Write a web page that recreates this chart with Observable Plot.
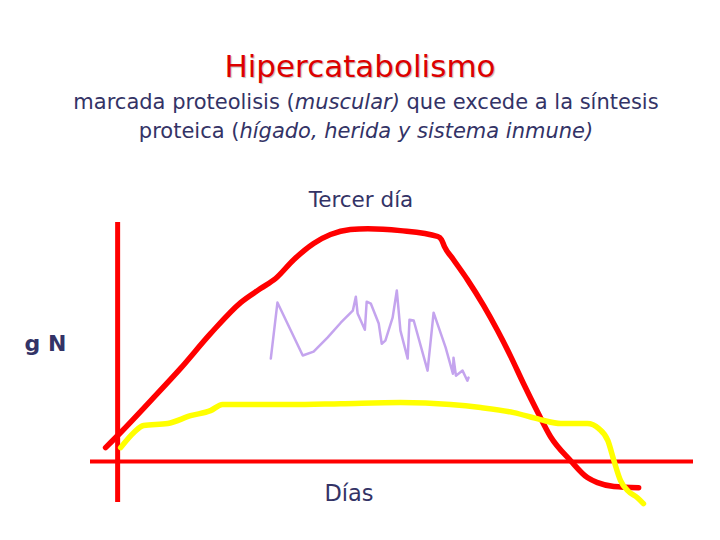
<!DOCTYPE html>
<html>
<head>
<meta charset="utf-8">
<script src="https://cdn.jsdelivr.net/npm/d3@7"></script>
<script src="https://cdn.jsdelivr.net/npm/@observablehq/plot@0.6"></script>
<style>
  html, body { margin: 0; padding: 0; background: #fff; }
  #page { position: relative; width: 720px; height: 540px; font-family: "DejaVu Sans", Verdana, sans-serif; }
  #header { position: relative; width: 720px; height: 180px; }
  .line { position: absolute; left: 0; width: 720px; text-align: center; line-height: 1; white-space: nowrap; }
  #title { top: 51px; font-size: 31px; color: #dd0000; text-shadow: 1px 1px 1px #bbb; }
  .sub { font-size: 21px; color: #333366; padding-left: 12px; box-sizing: border-box; }
  #sub1 { top: 92px; }
  #sub2 { top: 121px; }
  #chart svg { display: block; }
</style>
</head>
<body>
<div id="page">
  <div id="header">
    <div id="title" class="line"></div>
    <div id="sub1" class="line sub"></div>
    <div id="sub2" class="line sub"></div>
  </div>
  <div id="chart"></div>
</div>
<script>
// ---- text ----
const titleText = "Hipercatabolismo";
const subtitle1 = ["marcada proteolisis (", "muscular)", " que excede a la síntesis"];
const subtitle2 = ["proteica (", "hígado, herida y sistema inmune)", ""];
const peakLabel = ["Tercer día"];
const yLabel = ["g N"];
const xLabel = ["Días"];

// ---- red curve: protein breakdown (x = days units, y = g N units) ----
const redX = [-2.0, 0.5, 5.5, 10.4, 15.4, 20.4, 23.7, 26.2, 29.2, 32.5, 35.3, 38.6, 41.5, 46.9, 53.1, 53.7, 54.2, 55.7, 58.0, 60.7, 63.0, 65.2, 67.3, 69.6, 71.8, 75.1, 77.9, 79.6, 82.3, 86.4];
const redY = [5.0, 10.4, 21.8, 33.2, 45.7, 56.8, 61.8, 65.4, 72.1, 77.9, 81.1, 82.9, 83.2, 82.5, 80.4, 79.3, 76.8, 72.1, 65.0, 55.7, 46.8, 37.5, 27.9, 17.9, 8.9, 0.4, -5.7, -7.5, -8.9, -9.3];

// ---- yellow curve: synthesis ----
const yellowX = [0.5, 2.7, 4.3, 8.3, 12.1, 15.4, 17.4, 28.7, 37.0, 46.9, 55.2, 60.2, 65.7, 70.1, 73.5, 77.9, 79.8, 81.3, 82.3, 83.4, 84.6, 86.2, 87.2];
const yellowY = [5.0, 10.4, 12.9, 13.6, 16.4, 18.2, 20.4, 20.4, 20.7, 21.1, 20.4, 19.3, 17.5, 15.0, 13.6, 13.6, 11.8, 7.5, 0.4, -6.8, -10.4, -12.9, -15.0];

// ---- lilac jagged curve ----
const lilacX = [25.4, 26.5, 30.7, 32.5, 34.8, 37.0, 39.0, 39.5, 39.8, 41.0, 41.3, 42.0, 43.3, 43.8, 44.4, 45.6, 46.3, 46.9, 48.1, 48.4, 49.1, 51.4, 52.4, 54.4, 55.6, 55.7, 56.1, 57.2, 58.0, 58.2];
const lilacY = [36.8, 56.8, 37.9, 39.3, 44.3, 49.6, 53.9, 58.9, 52.9, 47.1, 57.1, 56.4, 49.3, 42.1, 43.2, 51.4, 61.1, 46.8, 36.8, 50.7, 50.4, 32.5, 53.2, 40.7, 31.4, 37.1, 30.7, 32.5, 28.9, 30.0];

const xDomain = [-4.5, 95.5];
const yDomain = [-14.6, 85.4];

const toRows = (xs, ys) => xs.map((x, i) => ({x, y: ys[i]}));
const red = toRows(redX, redY);
const yellow = toRows(yellowX, yellowY);
const lilac = toRows(lilacX, lilacY);

// header
document.getElementById("title").textContent = titleText;
function fillSub(el, parts) {
  el.append(document.createTextNode(parts[0]));
  const i = document.createElement("i");
  i.textContent = parts[1];
  el.append(i);
  el.append(document.createTextNode(parts[2]));
}
fillSub(document.getElementById("sub1"), subtitle1);
fillSub(document.getElementById("sub2"), subtitle2);

const textColor = "#333366";
const chart = Plot.plot({
  width: 720,
  height: 360,
  marginLeft: 90,
  marginRight: 27,
  marginTop: 42,
  marginBottom: 38,
  style: {fontFamily: "DejaVu Sans, Verdana, sans-serif", background: "white"},
  x: {domain: xDomain, axis: null},
  y: {domain: yDomain, axis: null},
  marks: [
    Plot.ruleY([0], {stroke: "#ff0000", strokeWidth: 4}),
    Plot.ruleX([0], {stroke: "#ff0000", strokeWidth: 5}),
    Plot.line(red, {x: "x", y: "y", stroke: "#ff0000", strokeWidth: 5.5, curve: "monotone-x"}),
    Plot.line(yellow, {x: "x", y: "y", stroke: "#ffff00", strokeWidth: 5.5, curve: "monotone-x"}),
    Plot.line(lilac, {x: "x", y: "y", stroke: "#c4a4ee", strokeWidth: 2.5, curve: "linear"}),
    Plot.text(peakLabel, {text: d => d, frameAnchor: "top", lineAnchor: "middle", dx: -31, dy: -22, fontSize: 21.5, fill: textColor}),
    Plot.text(yLabel, {text: d => d, frameAnchor: "left", textAnchor: "start", lineAnchor: "middle", dx: -66, dy: -19, fontSize: 22, fontWeight: "bold", fill: textColor}),
    Plot.text(xLabel, {text: d => d, frameAnchor: "bottom", lineAnchor: "middle", dx: -43, dy: -9, fontSize: 22.5, fill: textColor})
  ]
});
document.getElementById("chart").append(chart);
</script>
</body>
</html>
